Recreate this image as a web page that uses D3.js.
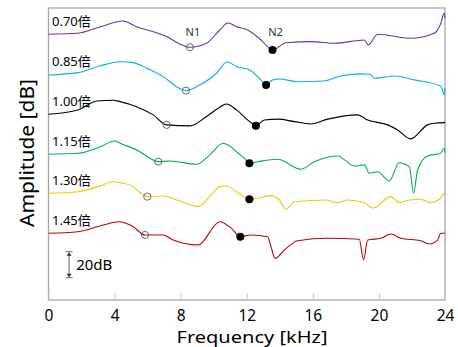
<!DOCTYPE html>
<html>
<head>
<meta charset="utf-8">
<script src="https://cdn.jsdelivr.net/npm/d3@7"></script>
<style>
  body { margin: 0; background: #fff; }
  text { font-family: "Noto Sans", "Noto Sans CJK JP", sans-serif; }
</style>
</head>
<body>
<div id="chart"></div>
<script>
/* Frequency response curves, shifted apart */

const labels = ["0.70倍", "0.85倍", "1.00倍", "1.15倍", "1.30倍", "1.45倍"];
const colors = ["#7030A0", "#00B0F0", "#000000", "#00B050", "#FFC000", "#C00000"];
const offsets = [0, -31.3, -61.5, -92.3, -122.3, -153.1]; // dB shift of each curve
const xTicks = [0, 4, 8, 12, 16, 20, 24];

// [kHz, dB] relative to the curve's own offset
const curve070 = [[0,0],[1.78,0.8],[3.1,5.6],[4.5,10.2],[5.33,5.8],[6.34,2.0],[7.15,-1.8],[7.85,-6.9],[8.55,-10],
  [9.56,-6.9],[10.37,3.3],[10.87,8.7],[11.38,5.8],[12.06,3.3],[12.87,-4.4],[13.56,-12.1],[14.38,-6.5],
  [15.89,-5.7],[17.3,-6.9],[19.12,-4.4],[19.36,-8.2],[19.92,0],[21.93,-3.1],[23.35,0.8],[23.75,8.5],
  [23.95,16.2],[24,12.4]];
const curve085 = [[0,0],[1.78,1.8],[3.1,6.9],[4.33,10.2],[5.13,9.5],[5.94,5.2],[6.94,-1.3],[7.75,-9],[8.31,-12.1],
  [9.16,-7.7],[10.17,1.3],[10.81,10.2],[11.38,6.4],[12.18,3.8],[12.85,-3.8],[13.17,-7.7],[13.57,-3.8],
  [13.98,-3.1],[15.08,-5.2],[16.7,-4.6],[17.68,-0.8],[18.89,0.8],[19.5,0.5],[19.72,-2.5],[20.93,-0.8],
  [22.14,-3.8],[23.73,-8.5],[23.98,-15.4],[24,-10]];
const curve100 = [[0,0],[1.78,3.3],[2.93,10.2],[3.9,10.8],[4.33,9.7],[5.33,5.8],[6.34,-0.5],[7.15,-8.2],[8.55,-9],
  [9.56,-1.8],[10.27,4.6],[10.77,7.9],[11.38,3.3],[12.18,-5.7],[12.55,-8.8],[13.07,-4.4],[13.88,-3.8],
  [14.89,-5.7],[15.87,-7.5],[16.9,-3.8],[18.71,-0.5],[19.32,-4.4],[20.53,-8.2],[21.13,-12.1],[21.92,-19],
  [22.94,-8.2],[23.35,-6.9],[24,-6.5]];
const curve115 = [[0,0],[1.78,0.8],[3.11,5.6],[4.02,10.2],[4.33,8.5],[5.53,2.0],[6.14,-3.1],[6.64,-5.7],[7.35,-5.2],
  [8.96,-7.7],[9.76,-0.5],[10.57,8.5],[10.97,6.4],[11.48,0.8],[11.86,-3.1],[12.15,-6.9],[12.67,-5.7],
  [13.88,-3.8],[15.27,-11.5],[16.09,-5.7],[17.5,-1.3],[18.51,-9],[19.12,-8.2],[19.42,-14.6],[19.92,-13.4],
  [20.63,-20.5],[21.23,-6.5],[21.84,-9.5],[22.1,-30],[22.34,-12.1],[22.94,-1.3],[23.73,0.8],[23.95,4.6],[24,1.2]];
const curve130 = [[0,0],[1.78,1.2],[3.11,5.6],[3.9,8.9],[4.33,8.2],[5.13,5.1],[5.63,-0.5],[5.97,-2.6],[6.94,-2.1],
  [7.95,-5.9],[9.06,-10.3],[9.76,-2.6],[10.37,5.1],[10.77,5.6],[11.38,1.2],[12.15,-4.6],[12.67,-3.8],
  [13.47,-1.8],[13.98,-5.2],[14.38,-12.3],[14.89,-6.5],[16.7,-5.2],[17.5,-7.2],[18.11,-5.2],[19.12,-7.2],
  [19.62,-11.5],[20.73,-2.6],[21.23,-7.2],[21.84,-5.2],[22.54,-4.6],[23.14,-7.2],[23.65,-4.6],[24,0.5]];
const curve145 = [[0,0],[1.78,1.2],[3.11,5.6],[3.72,7.7],[4.25,8.9],[5.13,5.1],[5.83,-1.3],[6.94,-1.3],[7.55,-5.2],
  [9.06,-9],[10.37,8.9],[11.08,3.8],[11.6,-2.6],[12.26,-1.3],[13.27,-2.6],[13.47,-10.3],[13.71,-19.2],
  [14.28,-12.8],[15.08,-5.7],[16.9,-3.8],[18.81,-4.6],[19.07,-20.5],[19.32,-5.2],[20.12,-3.8],[20.73,-0.5],
  [21.33,-3.8],[22.54,-5.7],[23.05,-8.2],[23.55,-5.2],[23.75,0],[24,0]];
const curves = [curve070, curve085, curve100, curve115, curve130, curve145];

const n1Freq = [8.56, 8.32, 7.15, 6.64, 5.98, 5.84]; // open circles
const n2Freq = [13.56, 13.17, 12.55, 12.16, 12.16, 11.61]; // filled dots

const width = 458, height = 347,
      margin = ({top: 8, right: 13, bottom: 47, left: 48.5});

let svg = d3.select("#chart")
            .append("svg")
            .attr("width", width)
            .attr("height", height);

let x = d3.scaleLinear()
          .domain([0, 24])
          .range([margin.left, width - margin.right]);

let y = d3.scaleLinear()
          .domain([-204.4, 20.2])
          .range([height - margin.bottom, margin.top]);

/* frame */
svg.append("rect")
   .attr("x", margin.left)
   .attr("y", margin.top)
   .attr("width", width - margin.right - margin.left)
   .attr("height", height - margin.bottom - margin.top)
   .attr("fill", "none")
   .attr("stroke", "#a6a6a6")
   .attr("stroke-width", 1.3);

const xAxis = g => g
      .attr("transform", `translate(0, ${height - margin.bottom})`)
      .call(d3.axisBottom(x).tickValues(xTicks).tickSize(-7).tickPadding(9.5))
      .call(g => g.select(".domain").remove())
      .call(g => g.selectAll(".tick line").attr("stroke", "#c8c8c8"))
      .call(g => g.selectAll(".tick text").attr("font-size", 15.5).attr("fill", "#000")
                   .style("font-family", "'Noto Sans', sans-serif"));

svg.append("g").call(xAxis);

svg.append("text")
   .attr("x", 252)
   .attr("y", 343)
   .attr("text-anchor", "middle")
   .attr("font-size", 17)
   .attr("textLength", 151)
   .attr("lengthAdjust", "spacingAndGlyphs")
   .text("Frequency [kHz]");

svg.append("text")
   .attr("transform", "translate(34, 153) rotate(-90)")
   .attr("text-anchor", "middle")
   .attr("font-size", 20)
   .attr("textLength", 148)
   .attr("lengthAdjust", "spacingAndGlyphs")
   .text("Amplitude [dB]");

/* curves */
const line = d3.line()
      .x(d => x(d[0]))
      .curve(d3.curveMonotoneX);

const valueAt = (data, f) => {
    let i = d3.bisector(d => d[0]).right(data, f);
    let a = data[i - 1], b = data[i];
    return a[1] + (b[1] - a[1]) * (f - a[0]) / (b[0] - a[0]);
};

curves.forEach((data, i) => {
    svg.append("path")
       .attr("d", line.y(d => y(d[1] + offsets[i]))(data))
       .attr("fill", "none")
       .attr("stroke", colors[i])
       .attr("stroke-width", 1.1);

    svg.append("text")
       .attr("x", 52)
       .attr("y", y(offsets[i]) - 8.5)
       .attr("font-size", 13)
       .style("font-family", "'Noto Sans', 'Noto Sans CJK JP', sans-serif")
       .text(labels[i]);
});

curves.forEach((data, i) => {
    svg.append("circle")
       .attr("cx", x(n1Freq[i]))
       .attr("cy", y(valueAt(data, n1Freq[i]) + offsets[i]))
       .attr("r", 3.6)
       .attr("fill", "none")
       .attr("stroke", "#595959")
       .attr("stroke-width", 0.9);

    svg.append("circle")
       .attr("cx", x(n2Freq[i]))
       .attr("cy", y(valueAt(data, n2Freq[i]) + offsets[i]))
       .attr("r", 4)
       .attr("fill", "#000");
});

svg.append("text")
   .attr("x", x(n1Freq[0]) + 3)
   .attr("y", 36)
   .attr("text-anchor", "middle")
   .attr("font-size", 11)
   .attr("fill", "#333")
   .text("N1");

svg.append("text")
   .attr("x", x(n2Freq[0]) + 3)
   .attr("y", 36)
   .attr("text-anchor", "middle")
   .attr("font-size", 11)
   .attr("fill", "#333")
   .text("N2");

/* 20 dB scale bar */
const barX = x(1.25), barTop = y(-167.2), barBot = y(-187.2);
let bar = svg.append("g").attr("stroke", "#7f7f7f").attr("stroke-width", 1.2);
bar.append("line").attr("x1", barX).attr("x2", barX).attr("y1", barTop + 1).attr("y2", barBot - 1);
bar.append("line").attr("x1", barX - 3.5).attr("x2", barX + 3.5).attr("y1", barTop).attr("y2", barTop);
bar.append("line").attr("x1", barX - 3.5).attr("x2", barX + 3.5).attr("y1", barBot).attr("y2", barBot);
bar.append("path")
   .attr("d", `M${barX - 2.5},${barTop + 4}L${barX},${barTop + 0.5}L${barX + 2.5},${barTop + 4}Z`)
   .attr("fill", "#333").attr("stroke", "none");
bar.append("path")
   .attr("d", `M${barX - 2.5},${barBot - 4}L${barX},${barBot - 0.5}L${barX + 2.5},${barBot - 4}Z`)
   .attr("fill", "#333").attr("stroke", "none");

svg.append("text")
   .attr("x", barX + 7)
   .attr("y", (barTop + barBot) / 2 + 5)
   .attr("font-size", 15)
   .text("20dB");
</script>
</body>
</html>
